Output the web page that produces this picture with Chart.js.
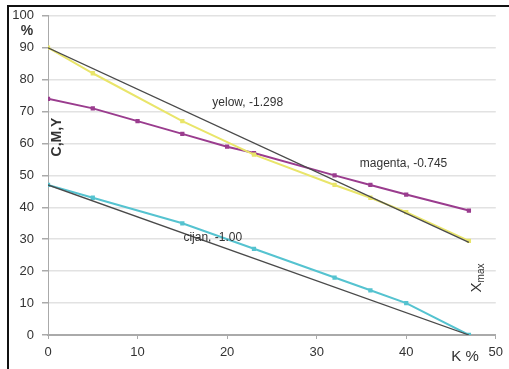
<!DOCTYPE html>
<html><head><meta charset="utf-8">
<script src="https://cdn.jsdelivr.net/npm/chart.js@4/dist/chart.umd.min.js"></script>
<style>html,body{margin:0;padding:0;background:#fff;overflow:hidden}canvas{display:block}</style>
</head><body>
<canvas id="c" width="509" height="369"></canvas>
<script>
// K % values (x) and C, M, Y values
const kYellow  = [0, 5, 15, 23, 32, 36, 40, 47];
const yellow   = [90, 82, 67, 56.5, 47, 43, 38.5, 29.5];
const kMagenta = [0, 5, 10, 15, 20, 23, 32, 36, 40, 47];
const magenta  = [74, 71, 67, 63, 59, 57, 50, 47, 44, 39];
const kCyan    = [0, 5, 15, 23, 32, 36, 40, 47];
const cyan     = [47, 43, 35, 27, 18, 14, 10, 0];
// straight reference lines (start, end)
const refYellowK = [0, 47];
const refYellow  = [90, 29];
const refCyanK   = [0, 47];
const refCyan    = [47, 0];
const xTicks = [0, 10, 20, 30, 40, 50];
const yTicks = [0, 10, 20, 30, 40, 50, 60, 70, 80, 90, 100];
const notes = [
  {text: 'yelow, -1.298', x: 22.3, y: 72.8},
  {text: 'magenta, -0.745', x: 39.7, y: 53.7},
  {text: 'cijan, -1.00', x: 18.4, y: 30.6}
];

const pts = (xs, ys) => xs.map((x, i) => ({x: x, y: ys[i]}));
const FONT = "'Liberation Sans', Arial, sans-serif";

const extras = {
  id: 'extras',
  beforeDraw(chart) {
    const ctx = chart.ctx;
    ctx.save();
    ctx.fillStyle = '#fff';
    ctx.fillRect(0, 0, chart.width, chart.height);
    ctx.strokeStyle = '#111';
    ctx.lineWidth = 2;
    ctx.beginPath();
    ctx.moveTo(8, 369); ctx.lineTo(8, 6); ctx.lineTo(509, 6);
    ctx.stroke();
    ctx.restore();
  },
  afterDraw(chart) {
    const ctx = chart.ctx;
    const xs = chart.scales.x, ys = chart.scales.y;
    ctx.save();
    ctx.fillStyle = '#333';
    ctx.textAlign = 'center';
    ctx.textBaseline = 'middle';
    ctx.font = '12px ' + FONT;
    notes.forEach(n => ctx.fillText(n.text, xs.getPixelForValue(n.x), ys.getPixelForValue(n.y)));
    // axis titles
    ctx.font = 'bold 14px ' + FONT;
    ctx.fillText('%', 27, 31);
    ctx.font = '15px ' + FONT;
    ctx.fillText('K %', 465, 357);
    // C,M,Y rotated
    ctx.save();
    ctx.translate(57, 137);
    ctx.rotate(-Math.PI / 2);
    ctx.font = 'bold 14px ' + FONT;
    ctx.fillText('C,M,Y', 0, 0);
    ctx.restore();
    // Xmax rotated
    ctx.save();
    ctx.translate(477, 278);
    ctx.rotate(-Math.PI / 2);
    ctx.textAlign = 'left';
    ctx.font = '15px ' + FONT;
    const w = ctx.measureText('X').width;
    ctx.font = '10px ' + FONT;
    const wm = ctx.measureText('max').width;
    const start = -(w + wm) / 2;
    ctx.font = '15px ' + FONT;
    ctx.fillText('X', start, 0);
    ctx.font = '10px ' + FONT;
    ctx.fillText('max', start + w, 4);
    ctx.restore();
    ctx.restore();
  }
};

new Chart(document.getElementById('c'), {
  type: 'line',
  data: {
    datasets: [
      {data: pts(refYellowK, refYellow), borderColor: '#4a4a4a', borderWidth: 1.3, pointRadius: 0},
      {data: pts(refCyanK, refCyan), borderColor: '#4a4a4a', borderWidth: 1.3, pointRadius: 0},
      {data: pts(kYellow, yellow), borderColor: '#e9e56a', backgroundColor: '#e9e56a', borderWidth: 2, pointRadius: 1.6, pointStyle: 'rect'},
      {data: pts(kMagenta, magenta), borderColor: '#9a3c8e', backgroundColor: '#a8409a', borderWidth: 2, pointRadius: 1.6, pointStyle: 'rect'},
      {data: pts(kCyan, cyan), borderColor: '#55c3d0', backgroundColor: '#55c3d0', borderWidth: 2, pointRadius: 1.6, pointStyle: 'rect'}
    ]
  },
  options: {
    responsive: false,
    animation: false,
    layout: {padding: {left: 0, top: 15, right: 8, bottom: 0}},
    plugins: {legend: {display: false}, tooltip: {enabled: false}},
    scales: {
      x: {
        type: 'linear', min: 0, max: 50,
        afterBuildTicks: s => { s.ticks = xTicks.map(v => ({value: v})); },
        afterFit: s => { s.height = 34; },
        grid: {drawOnChartArea: false, drawTicks: true, tickLength: 4, color: '#aaa'},
        border: {color: '#aaa', width: 2},
        ticks: {color: '#333', font: {family: FONT, size: 13}, padding: 6, maxRotation: 0}
      },
      y: {
        type: 'linear', min: 0, max: 100,
        afterBuildTicks: s => { s.ticks = yTicks.map(v => ({value: v})); },
        afterFit: s => { s.width = 48; },
        grid: {color: '#e2e2e2', lineWidth: 1.5, tickLength: 6, tickColor: '#aaa'},
        border: {color: '#aaa', width: 1},
        ticks: {color: '#333', font: {family: FONT, size: 13}, padding: 8}
      }
    }
  },
  plugins: [extras]
});
</script>
</body></html>
